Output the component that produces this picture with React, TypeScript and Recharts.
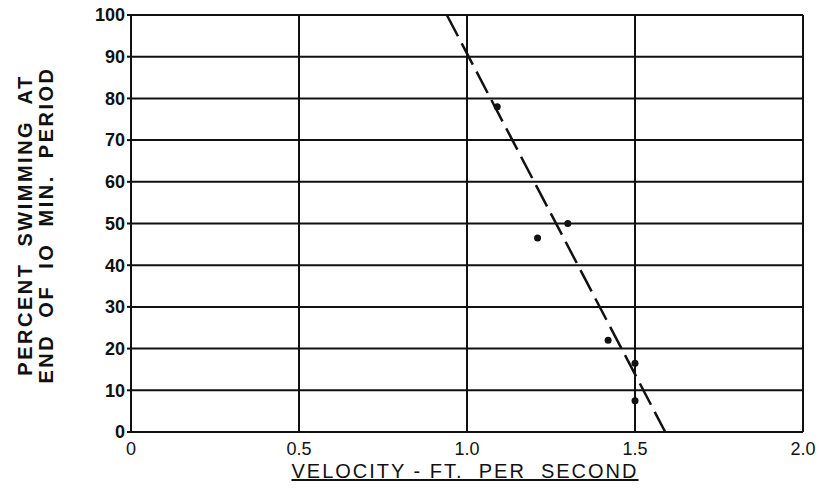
import { ComposedChart, Scatter, Line, XAxis, YAxis, CartesianGrid } from "recharts";

// observed points: velocity (ft/s) vs percent still swimming
const velocity = [1.09, 1.21, 1.3, 1.42, 1.5, 1.5];
const percentSwimming = [78, 46.5, 50, 22, 16.5, 7.5];

// hand-fitted dashed line ends
const fitVelocity = [0.94, 1.59];
const fitPercent = [100, 0];

const xTicks = [0, 0.5, 1.0, 1.5, 2.0];
const xTickLabels = ["0", "0.5", "1.0", "1.5", "2.0"];
const yTicks = [0, 10, 20, 30, 40, 50, 60, 70, 80, 90, 100];

const points = velocity.map((v, i) => ({ x: v, y: percentSwimming[i] }));
const fit = fitVelocity.map((v, i) => ({ x: v, y: fitPercent[i] }));

const FONT = "'Liberation Sans', Arial, sans-serif";

const YLabel = () => (
  <g fontFamily={FONT} fontWeight="bold" fontSize={20} fill="#111">
    <text
      transform="translate(32, 225) rotate(-90)"
      textAnchor="middle"
      letterSpacing={2.5}
      xmlSpace="preserve"
      style={{ whiteSpace: "pre" }}
    >
      {"PERCENT  SWIMMING  AT"}
    </text>
    <text
      transform="translate(53, 225) rotate(-90)"
      textAnchor="middle"
      letterSpacing={2.5}
      xmlSpace="preserve"
      style={{ whiteSpace: "pre" }}
    >
      {"END  OF  IO  MIN.  PERIOD"}
    </text>
  </g>
);

const App = () => {
  return (
    <div style={{ position: "absolute", left: 0, top: 0, background: "#fff" }}>
      <ComposedChart
        width={817}
        height={495}
        margin={{ top: 15, right: 14, bottom: 0, left: 0 }}
      >
        <CartesianGrid stroke="#111" strokeWidth={2} horizontal vertical />
        <XAxis
          type="number"
          dataKey="x"
          domain={[0, 2]}
          ticks={xTicks}
          tickFormatter={(v: number) => xTickLabels[xTicks.indexOf(v)]}
          axisLine={{ stroke: "#111", strokeWidth: 2 }}
          tickLine={false}
          tick={{ fill: "#111", fontSize: 18, fontFamily: FONT }}
          tickMargin={4}
          height={63}
        />
        <YAxis
          type="number"
          dataKey="y"
          domain={[0, 100]}
          ticks={yTicks}
          axisLine={{ stroke: "#111", strokeWidth: 2 }}
          tickLine={{ stroke: "#111", strokeWidth: 2 }}
          tickSize={4}
          tick={{ fill: "#111", fontSize: 18, fontFamily: FONT, fontWeight: "bold" }}
          width={131}
          interval={0}
        />
        <Line
          data={fit}
          dataKey="y"
          stroke="#111"
          strokeWidth={2.5}
          strokeDasharray="24 8"
          dot={false}
          isAnimationActive={false}
        />
        <Scatter data={points} dataKey="y" fill="#111" isAnimationActive={false}
          shape={(p: any) => <circle cx={p.cx} cy={p.cy} r={3.5} fill="#111" />}
        />
        <YLabel />
        <text
          x={465}
          y={478}
          textAnchor="middle"
          fontFamily={FONT}
          fontSize={20}
          letterSpacing={2}
          fill="#111"
          textDecoration="underline"
          xmlSpace="preserve"
          style={{ whiteSpace: "pre" }}
        >
          {"VELOCITY - FT.  PER  SECOND"}
        </text>
      </ComposedChart>
    </div>
  );
};

export default App;
